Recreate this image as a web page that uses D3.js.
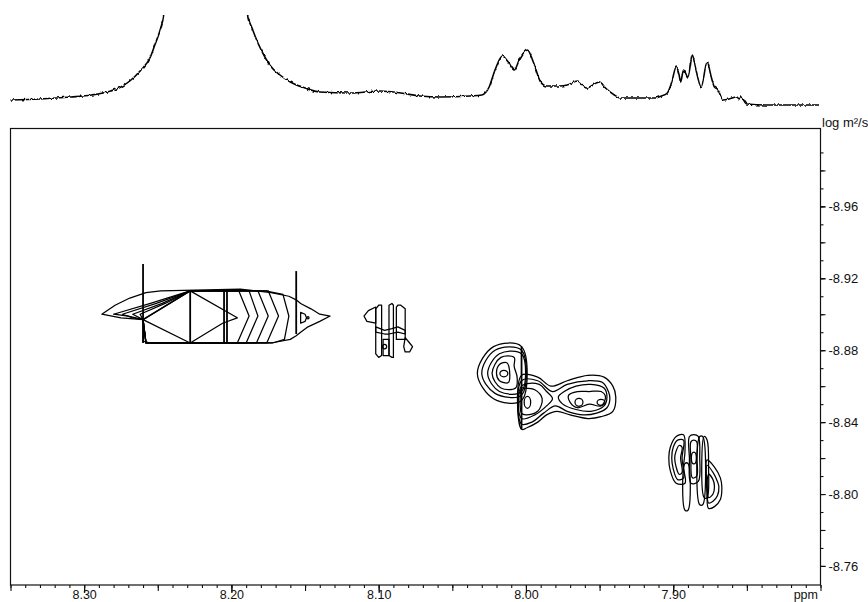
<!DOCTYPE html>
<html>
<head>
<meta charset="utf-8">
<script src="https://cdn.jsdelivr.net/npm/d3@7"></script>
<style>
  html, body { margin: 0; padding: 0; background: #fff; }
  svg { display: block; font-family: "Liberation Sans", Arial, Helvetica, sans-serif; }
</style>
</head>
<body>
<svg id="chart" width="868" height="602"></svg>
<script>
// ---- axis labels ----
const shiftLabels = [8.30, 8.20, 8.10, 8.00, 7.90];
const diffLabels = [-8.96, -8.92, -8.88, -8.84, -8.80, -8.76];

// ---- 1D projection (chemical shift in ppm, intensity in arbitrary units) ----
const specShift = [8.350, 8.330, 8.309, 8.295, 8.282, 8.275, 8.269, 8.262, 8.255, 8.252, 8.248,
  8.246, 8.244, 8.238, 8.218, 8.197, 8.191, 8.189, 8.186, 8.182, 8.178,
  8.174, 8.167, 8.160, 8.150, 8.140, 8.119, 8.099, 8.085, 8.072, 8.058,
  8.038, 8.030, 8.025, 8.021, 8.016, 8.012, 8.008, 8.004, 7.999, 7.995,
  7.990, 7.986, 7.977, 7.972, 7.965, 7.959, 7.950, 7.946, 7.940, 7.936,
  7.923, 7.912, 7.908, 7.904, 7.901, 7.898, 7.896, 7.895, 7.893, 7.890,
  7.887, 7.885, 7.881, 7.877, 7.874, 7.872, 7.870, 7.866, 7.862, 7.857,
  7.855, 7.854, 7.850, 7.834, 7.814, 7.801];
const specIntensity = [8, 9, 11, 13, 17, 21, 27, 37, 51, 63, 80,
  93, 128, 258, 508, 258, 128, 93, 80, 65, 53,
  43, 33, 26, 20, 16, 15, 17, 15, 12, 11,
  12, 13, 21, 38, 52, 46, 38, 50, 58, 46,
  26, 22, 22, 23, 27, 20, 26, 20, 13, 10,
  10, 10, 12, 15, 26, 41, 33, 26, 38, 31,
  53, 41, 21, 46, 30, 21, 19, 8, 9, 11,
  9, 11, 4, 3, 3, 3];

// ---- DOSY contour rings: [ppm, log D] vertices ----
const contoursA = [
  [[8.288,-8.900],[8.279,-8.905],[8.269,-8.909],[8.258,-8.912],[8.248,-8.913],[8.194,-8.914],[8.173,-8.912],[8.161,-8.910],[8.156,-8.908],[8.153,-8.906],[8.146,-8.903],[8.140,-8.900],[8.133,-8.899],[8.140,-8.896],[8.148,-8.893],[8.153,-8.890],[8.156,-8.888],[8.160,-8.886],[8.173,-8.884],[8.255,-8.884],[8.260,-8.885],[8.260,-8.897],[8.275,-8.898]],
  [[8.280,-8.900],[8.255,-8.906],[8.228,-8.913],[8.177,-8.913],[8.165,-8.911],[8.161,-8.899],[8.164,-8.886],[8.172,-8.884],[8.258,-8.884],[8.260,-8.897],[8.270,-8.899]],
  [[8.274,-8.900],[8.251,-8.906],[8.228,-8.913],[8.175,-8.913],[8.168,-8.899],[8.176,-8.884],[8.258,-8.884],[8.260,-8.897],[8.267,-8.898]],
  [[8.267,-8.900],[8.247,-8.906],[8.228,-8.913],[8.182,-8.913],[8.175,-8.899],[8.183,-8.884],[8.258,-8.884],[8.260,-8.897]],
  [[8.262,-8.900],[8.245,-8.906],[8.228,-8.913],[8.188,-8.913],[8.182,-8.899],[8.190,-8.884],[8.258,-8.884],[8.260,-8.897]],
  [[8.260,-8.897],[8.228,-8.913],[8.195,-8.913],[8.188,-8.899],[8.196,-8.884],[8.258,-8.884]],
  [[8.260,-8.897],[8.228,-8.913],[8.196,-8.898],[8.206,-8.895],[8.228,-8.884]],
  [[8.153,-8.901],[8.150,-8.900],[8.149,-8.898],[8.150,-8.896],[8.153,-8.895]]
];
const contoursB = [
  [[8.102,-8.904],[8.107,-8.902],[8.110,-8.899],[8.108,-8.896],[8.102,-8.895]],
  [[8.102,-8.903],[8.100,-8.905],[8.098,-8.905],[8.098,-8.877],[8.100,-8.876],[8.102,-8.878]],
  [[8.093,-8.905],[8.091,-8.906],[8.090,-8.905],[8.090,-8.876],[8.091,-8.876],[8.093,-8.877]],
  [[8.088,-8.904],[8.087,-8.905],[8.085,-8.905],[8.082,-8.903],[8.082,-8.886],[8.088,-8.886]],
  [[8.082,-8.887],[8.079,-8.884],[8.077,-8.882],[8.079,-8.879],[8.082,-8.879],[8.083,-8.882]],
  [[8.102,-8.893],[8.096,-8.891],[8.091,-8.892],[8.087,-8.893],[8.082,-8.891],[8.082,-8.889],[8.087,-8.890],[8.093,-8.889],[8.096,-8.889],[8.102,-8.890]],
  [[8.097,-8.886],[8.093,-8.886],[8.093,-8.877],[8.097,-8.877]]
];
const contoursC = [
  [[8.003,-8.882],[8.022,-8.882],[8.033,-8.867],[8.022,-8.853],[8.003,-8.852]],
  [[8.003,-8.880],[8.021,-8.880],[8.030,-8.867],[8.021,-8.856],[8.003,-8.855]],
  [[8.003,-8.878],[8.018,-8.878],[8.026,-8.867],[8.018,-8.857],[8.003,-8.857]],
  [[8.008,-8.876],[8.017,-8.876],[8.023,-8.867],[8.017,-8.859],[8.007,-8.859],[8.006,-8.865],[8.008,-8.871]],
  [[8.013,-8.873],[8.018,-8.872],[8.020,-8.867],[8.018,-8.863],[8.012,-8.862],[8.011,-8.867]],
  [[8.003,-8.866],[7.992,-8.865],[7.983,-8.860],[7.972,-8.863],[7.958,-8.866],[7.947,-8.865],[7.941,-8.860],[7.939,-8.854],[7.941,-8.846],[7.949,-8.843],[7.958,-8.842],[7.970,-8.844],[7.979,-8.846],[7.986,-8.844],[7.992,-8.840],[7.999,-8.837],[8.003,-8.836]],
  [[8.003,-8.863],[7.992,-8.863],[7.982,-8.857],[7.972,-8.861],[7.958,-8.863],[7.948,-8.862],[7.944,-8.857],[7.943,-8.853],[7.945,-8.848],[7.952,-8.845],[7.961,-8.844],[7.972,-8.846],[7.980,-8.849],[7.988,-8.845],[7.996,-8.840],[8.003,-8.839]],
  [[8.003,-8.860],[7.991,-8.861],[7.986,-8.857],[7.982,-8.853],[7.986,-8.849],[7.994,-8.844],[8.003,-8.842]],
  [[7.978,-8.854],[7.974,-8.857],[7.966,-8.860],[7.956,-8.861],[7.947,-8.859],[7.945,-8.854],[7.947,-8.849],[7.956,-8.846],[7.966,-8.847],[7.975,-8.850]],
  [[8.003,-8.859],[8.002,-8.859],[7.994,-8.858],[7.989,-8.853],[7.992,-8.846],[8.000,-8.844],[8.003,-8.845]],
  [[7.971,-8.855],[7.965,-8.857],[7.957,-8.857],[7.949,-8.857],[7.946,-8.854],[7.949,-8.849],[7.957,-8.850],[7.965,-8.848],[7.970,-8.851]]
];
const contoursD = [
  [[7.898,-8.832],[7.893,-8.833],[7.892,-8.824],[7.893,-8.815],[7.892,-8.806],[7.898,-8.806],[7.902,-8.813],[7.903,-8.820],[7.902,-8.826]],
  [[7.897,-8.830],[7.893,-8.830],[7.894,-8.820],[7.893,-8.809],[7.897,-8.808],[7.900,-8.814],[7.901,-8.820],[7.900,-8.826]],
  [[7.896,-8.827],[7.894,-8.826],[7.895,-8.820],[7.894,-8.812],[7.896,-8.811],[7.898,-8.815],[7.899,-8.820],[7.898,-8.824]],
  [[7.889,-8.832],[7.886,-8.833],[7.883,-8.832],[7.882,-8.820],[7.883,-8.807],[7.888,-8.806],[7.889,-8.820]],
  [[7.888,-8.829],[7.886,-8.830],[7.884,-8.829],[7.884,-8.820],[7.884,-8.810],[7.887,-8.809],[7.888,-8.820]],
  [[7.892,-8.817],[7.890,-8.817],[7.890,-8.791],[7.892,-8.791]],
  [[7.882,-8.832],[7.880,-8.832],[7.880,-8.794],[7.882,-8.794]],
  [[7.879,-8.832],[7.877,-8.830],[7.876,-8.815],[7.877,-8.798],[7.879,-8.798]],
  [[7.877,-8.819],[7.872,-8.815],[7.868,-8.809],[7.867,-8.804],[7.868,-8.797],[7.872,-8.793],[7.876,-8.792],[7.877,-8.802]],
  [[7.877,-8.816],[7.873,-8.812],[7.870,-8.807],[7.869,-8.804],[7.870,-8.799],[7.873,-8.796],[7.876,-8.795],[7.877,-8.802]],
  [[7.876,-8.811],[7.873,-8.808],[7.872,-8.804],[7.873,-8.800],[7.876,-8.798]]
];
// innermost closed levels: [ppm, log D, half-width ppm, half-height log D]
const peakSpots = [
  [8.148, -8.898, 0.0007, 0.0006],
  [8.096, -8.882, 0.0014, 0.0013],
  [8.015, -8.867, 0.0027, 0.0018],
  [7.999, -8.851, 0.0022, 0.0033],
  [7.964, -8.851, 0.0027, 0.0022],
  [7.949, -8.851, 0.0027, 0.0017],
  [7.886, -8.820, 0.0017, 0.0033]
];
// truncation ridges along the diffusion axis: [ppm, log D top, log D bottom]
const ridges = [
  [8.260, -8.928, -8.884],
  [8.156, -8.924, -8.889],
  [8.228, -8.913, -8.884],
  [8.205, -8.913, -8.884],
  [8.203, -8.913, -8.884],
  [8.003, -8.882, -8.836]
];

// ---- layout ----
const svg = d3.select("#chart");
const plotLeft = 10.5, plotRight = 820.5, plotTop = 128.5, plotBottom = 585;
const x = d3.scaleLinear().domain([8.35, 7.80]).range([plotLeft, plotRight]);
const y = d3.scaleLinear().domain([-9.0033, -8.7494]).range([plotTop, plotBottom]);
const ySpec = d3.scaleLinear().domain([0, 100]).range([108, 8]);

const defs = svg.append("defs");
defs.append("clipPath").attr("id", "specClip")
  .append("rect").attr("x", 0).attr("y", 15).attr("width", 868).attr("height", 105);
// grainy pen texture for the acquired trace (vertical jitter only)
const grain = defs.append("filter").attr("id", "grain")
  .attr("filterUnits", "userSpaceOnUse")
  .attr("x", 0).attr("y", 0).attr("width", 868).attr("height", 125);
grain.append("feTurbulence").attr("type", "fractalNoise")
  .attr("baseFrequency", "0.45 0.2").attr("numOctaves", 1).attr("seed", 11).attr("result", "noise");
grain.append("feColorMatrix").attr("in", "noise").attr("type", "matrix")
  .attr("values", "0 0 0 0 0.5  0 1 0 0 0  0 0 0 0 0  0 0 0 0 1").attr("result", "yNoise");
grain.append("feDisplacementMap").attr("in", "SourceGraphic").attr("in2", "yNoise")
  .attr("scale", 4).attr("xChannelSelector", "R").attr("yChannelSelector", "G");

// ---- projection trace ----
const specData = specShift.map((s, i) => [s, specIntensity[i]]);
svg.append("g").attr("clip-path", "url(#specClip)")
  .append("path")
  .datum(specData)
  .attr("filter", "url(#grain)")
  .attr("fill", "none")
  .attr("stroke", "#000")
  .attr("stroke-width", 1.6)
  .attr("stroke-linejoin", "round")
  .attr("d", d3.line().x(d => x(d[0])).y(d => ySpec(d[1])).curve(d3.curveMonotoneX));

// ---- frame ----
svg.append("rect")
  .attr("x", plotLeft).attr("y", plotTop)
  .attr("width", plotRight - plotLeft).attr("height", plotBottom - plotTop)
  .attr("fill", "none").attr("stroke", "#111").attr("stroke-width", 1.2);

// ---- contours ----
const gC = svg.append("g").attr("fill", "none").attr("stroke", "#000").attr("stroke-width", 1.25)
  .attr("stroke-linejoin", "round");
const ringLinear = d3.line().x(d => x(d[0])).y(d => y(d[1])).curve(d3.curveLinearClosed);
const ringSmooth = d3.line().x(d => x(d[0])).y(d => y(d[1])).curve(d3.curveCatmullRomClosed.alpha(0.5));

gC.selectAll("path.a").data(contoursA).join("path").attr("class", "a").attr("d", ringLinear);
gC.selectAll("path.b").data(contoursB).join("path").attr("class", "b").attr("d", ringLinear);
gC.selectAll("path.c").data(contoursC).join("path").attr("class", "c").attr("d", ringSmooth);
gC.selectAll("path.d").data(contoursD).join("path").attr("class", "d").attr("d", ringSmooth);

gC.selectAll("ellipse").data(peakSpots).join("ellipse")
  .attr("cx", d => x(d[0])).attr("cy", d => y(d[1]))
  .attr("rx", d => Math.abs(x(d[0] + d[2]) - x(d[0])))
  .attr("ry", d => Math.abs(y(d[1] + d[3]) - y(d[1])));

gC.selectAll("line").data(ridges).join("line")
  .attr("x1", d => x(d[0])).attr("x2", d => x(d[0]))
  .attr("y1", d => y(d[1])).attr("y2", d => y(d[2]))
  .attr("stroke-width", 1.8);

// ---- bottom axis (chemical shift) ----
const shiftAll = d3.range(0, 56).map(i => +(7.80 + i * 0.01).toFixed(2));
const shiftMid = shiftAll.filter(v => Math.round(v * 100) % 5 === 0);
const styleAxis = g => {
  g.select(".domain").remove();
  g.selectAll("line").attr("stroke", "#111").attr("stroke-width", 1.1);
  g.selectAll("text").attr("fill", "#111").attr("font-size", 13)
    .attr("font-family", "'Liberation Sans', Arial, Helvetica, sans-serif");
};
svg.append("g").attr("transform", `translate(0,${plotBottom})`)
  .call(d3.axisBottom(x).tickValues(shiftAll).tickSize(3).tickFormat("")).call(styleAxis);
svg.append("g").attr("transform", `translate(0,${plotBottom})`)
  .call(d3.axisBottom(x).tickValues(shiftMid).tickSize(6).tickFormat("")).call(styleAxis);
const gShift = svg.append("g").attr("transform", `translate(0,${plotBottom})`)
  .call(d3.axisBottom(x).tickValues(shiftLabels).tickSize(8).tickPadding(1)
    .tickFormat(d => d.toFixed(2))).call(styleAxis);
gShift.selectAll("text").attr("y", 14).attr("dy", null).attr("font-size", 12.5);

svg.append("text").attr("x", 818).attr("y", 598.5).attr("text-anchor", "end")
  .attr("font-size", 12.5).attr("fill", "#111").text("ppm");

// ---- right axis (log diffusion coefficient) ----
const diffAll = d3.range(0, 24).map(i => +(-8.99 + i * 0.01).toFixed(2));
const diffMid = diffAll.filter(v => Math.round(Math.abs(v) * 100) % 2 === 0);
svg.append("g").attr("transform", `translate(${plotRight},0)`)
  .call(d3.axisRight(y).tickValues(diffAll).tickSize(3).tickFormat("")).call(styleAxis);
svg.append("g").attr("transform", `translate(${plotRight},0)`)
  .call(d3.axisRight(y).tickValues(diffMid).tickSize(5).tickFormat("")).call(styleAxis);
svg.append("g").attr("transform", `translate(${plotRight},0)`)
  .call(d3.axisRight(y).tickValues(diffLabels).tickSize(5).tickPadding(3)
    .tickFormat(d => d.toFixed(2))).call(styleAxis);

svg.append("text").attr("x", 822).attr("y", 127)
  .attr("font-size", 13).attr("fill", "#111").text("log m²/s");
</script>
</body>
</html>
